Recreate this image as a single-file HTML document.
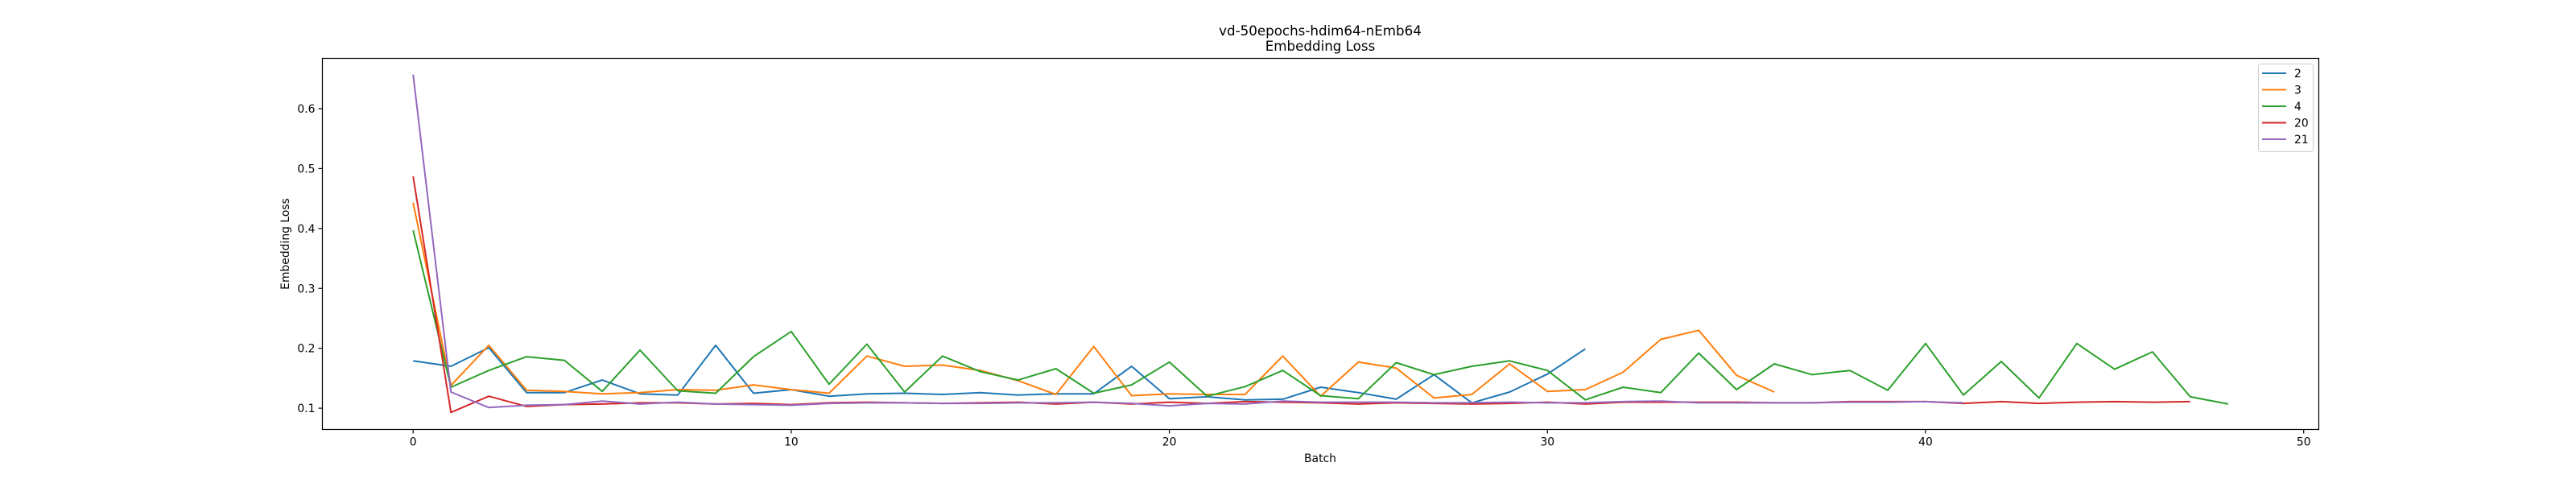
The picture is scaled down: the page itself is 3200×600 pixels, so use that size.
<!DOCTYPE html>
<html><head><meta charset="utf-8"><style>
html,body{margin:0;padding:0;background:#fff;}
svg{display:block;font-family:"DejaVu Sans","Liberation Sans",sans-serif;}
</style></head><body>
<svg id="chart" width="3200" height="600" xmlns="http://www.w3.org/2000/svg">
<rect width="3200" height="600" fill="#fff"/>
<text x="1640" y="44" font-size="16.7" text-anchor="middle">vd-50epochs-hdim64-nEmb64</text>
<text x="1640" y="63" font-size="16.7" text-anchor="middle">Embedding Loss</text>
<text x="1640" y="574" font-size="13.9" text-anchor="middle">Batch</text>
<text x="0" y="0" font-size="13.9" text-anchor="middle" transform="translate(359,303) rotate(-90)">Embedding Loss</text>
<g id="ticks"></g>
<g id="lines"></g>
<rect x="400.5" y="72.5" width="2480" height="461" fill="none" stroke="#000" stroke-width="1.2"/>
<g id="legend"></g>
</svg>
<script>
const seriesNames = ["2","3","4","20","21"];
const colors = ["#1f77b4","#ff7f0e","#2ca02c","#d62728","#9467bd"];
const xTicks = [0,10,20,30,40,50];
const yTicks = [0.1,0.2,0.3,0.4,0.5,0.6];
const s2 = [0.179,0.170,0.201,0.126,0.126,0.147,0.124,0.122,0.205,0.125,0.131,0.120,0.124,0.125,0.123,0.126,0.122,0.124,0.124,0.170,0.116,0.119,0.114,0.115,0.135,0.126,0.115,0.156,0.109,0.127,0.157,0.199];
const s3 = [0.443,0.138,0.205,0.130,0.128,0.124,0.126,0.131,0.130,0.139,0.131,0.125,0.187,0.170,0.172,0.163,0.146,0.123,0.203,0.121,0.124,0.123,0.123,0.187,0.120,0.177,0.167,0.117,0.123,0.174,0.128,0.131,0.160,0.215,0.230,0.155,0.127];
const s4 = [0.397,0.135,0.163,0.186,0.180,0.128,0.197,0.129,0.125,0.186,0.228,0.140,0.207,0.127,0.187,0.161,0.147,0.166,0.125,0.139,0.177,0.120,0.136,0.163,0.121,0.116,0.176,0.156,0.170,0.179,0.163,0.114,0.135,0.126,0.192,0.131,0.174,0.156,0.163,0.130,0.208,0.122,0.178,0.117,0.208,0.165,0.194,0.119,0.107];
const s20 = [0.487,0.093,0.120,0.103,0.106,0.107,0.109,0.109,0.107,0.108,0.106,0.109,0.110,0.109,0.108,0.109,0.110,0.107,0.110,0.107,0.110,0.108,0.111,0.110,0.109,0.107,0.109,0.108,0.107,0.108,0.110,0.107,0.110,0.110,0.110,0.110,0.109,0.109,0.111,0.111,0.111,0.108,0.111,0.108,0.110,0.111,0.110,0.111];
const s21 = [0.657,0.127,0.101,0.105,0.106,0.112,0.107,0.110,0.107,0.106,0.105,0.108,0.109,0.109,0.108,0.108,0.109,0.109,0.110,0.108,0.104,0.108,0.107,0.112,0.110,0.110,0.110,0.109,0.109,0.110,0.109,0.109,0.111,0.112,0.109,0.109,0.109,0.109,0.110,0.110,0.111,0.109];
const allSeries = [s2,s3,s4,s20,s21];
const NS="http://www.w3.org/2000/svg";
const L=400.5,R=2880.5,T=72.5,B=533.5;
const xMin=-2.4,xMax=50.4,yMin=0.0645,yMax=0.684;
function xs(v){return L+(v-xMin)/(xMax-xMin)*(R-L);}
function ys(v){return B-(v-yMin)/(yMax-yMin)*(B-T);}
function mk(tag,attrs,parent){const e=document.createElementNS(NS,tag);for(const k in attrs)e.setAttribute(k,attrs[k]);parent.appendChild(e);return e;}
const tg=document.getElementById('ticks');
xTicks.forEach(t=>{
  const x=xs(t);
  const l=mk('line',{x1:x,x2:x,y1:B,y2:B+5,stroke:'#000','stroke-width':1.2},tg);
  
  
  const tx=mk('text',{x:x,y:B+20,'font-size':13.9,'text-anchor':'middle'},tg);
  tx.textContent=String(t);
  
  
});
yTicks.forEach(t=>{
  const y=ys(t);
  const l=mk('line',{x1:L-5,x2:L,y1:y,y2:y,stroke:'#000','stroke-width':1.2},tg);
  
  
  const tx=mk('text',{x:L-9,y:y+5,'font-size':13.9,'text-anchor':'end'},tg);
  tx.textContent=t.toFixed(1);
  
  
});
const lg=document.getElementById('lines');
allSeries.forEach((s,si)=>{
  const pts=s.map((v,i)=>xs(i).toFixed(1)+','+ys(v).toFixed(1)).join(' ');
  const p=mk('polyline',{points:pts,fill:'none',stroke:colors[si],'stroke-width':2,'stroke-linejoin':'round'},lg);
  
  
});
const leg=document.getElementById('legend');
const box=mk('rect',{x:2805.5,y:79.5,width:68,height:109,rx:3,fill:'#fff','fill-opacity':0.8,stroke:'#ccc','stroke-width':1},leg);


seriesNames.forEach((n,i)=>{
  const y=91+i*20.5;
  const l=mk('line',{x1:2810,x2:2840,y1:y,y2:y,stroke:colors[i],'stroke-width':2},leg);
  
  
  const t=mk('text',{x:2850,y:y+5,'font-size':13.9},leg);
  t.textContent=n;
  
  
});
</script>
</body></html>
